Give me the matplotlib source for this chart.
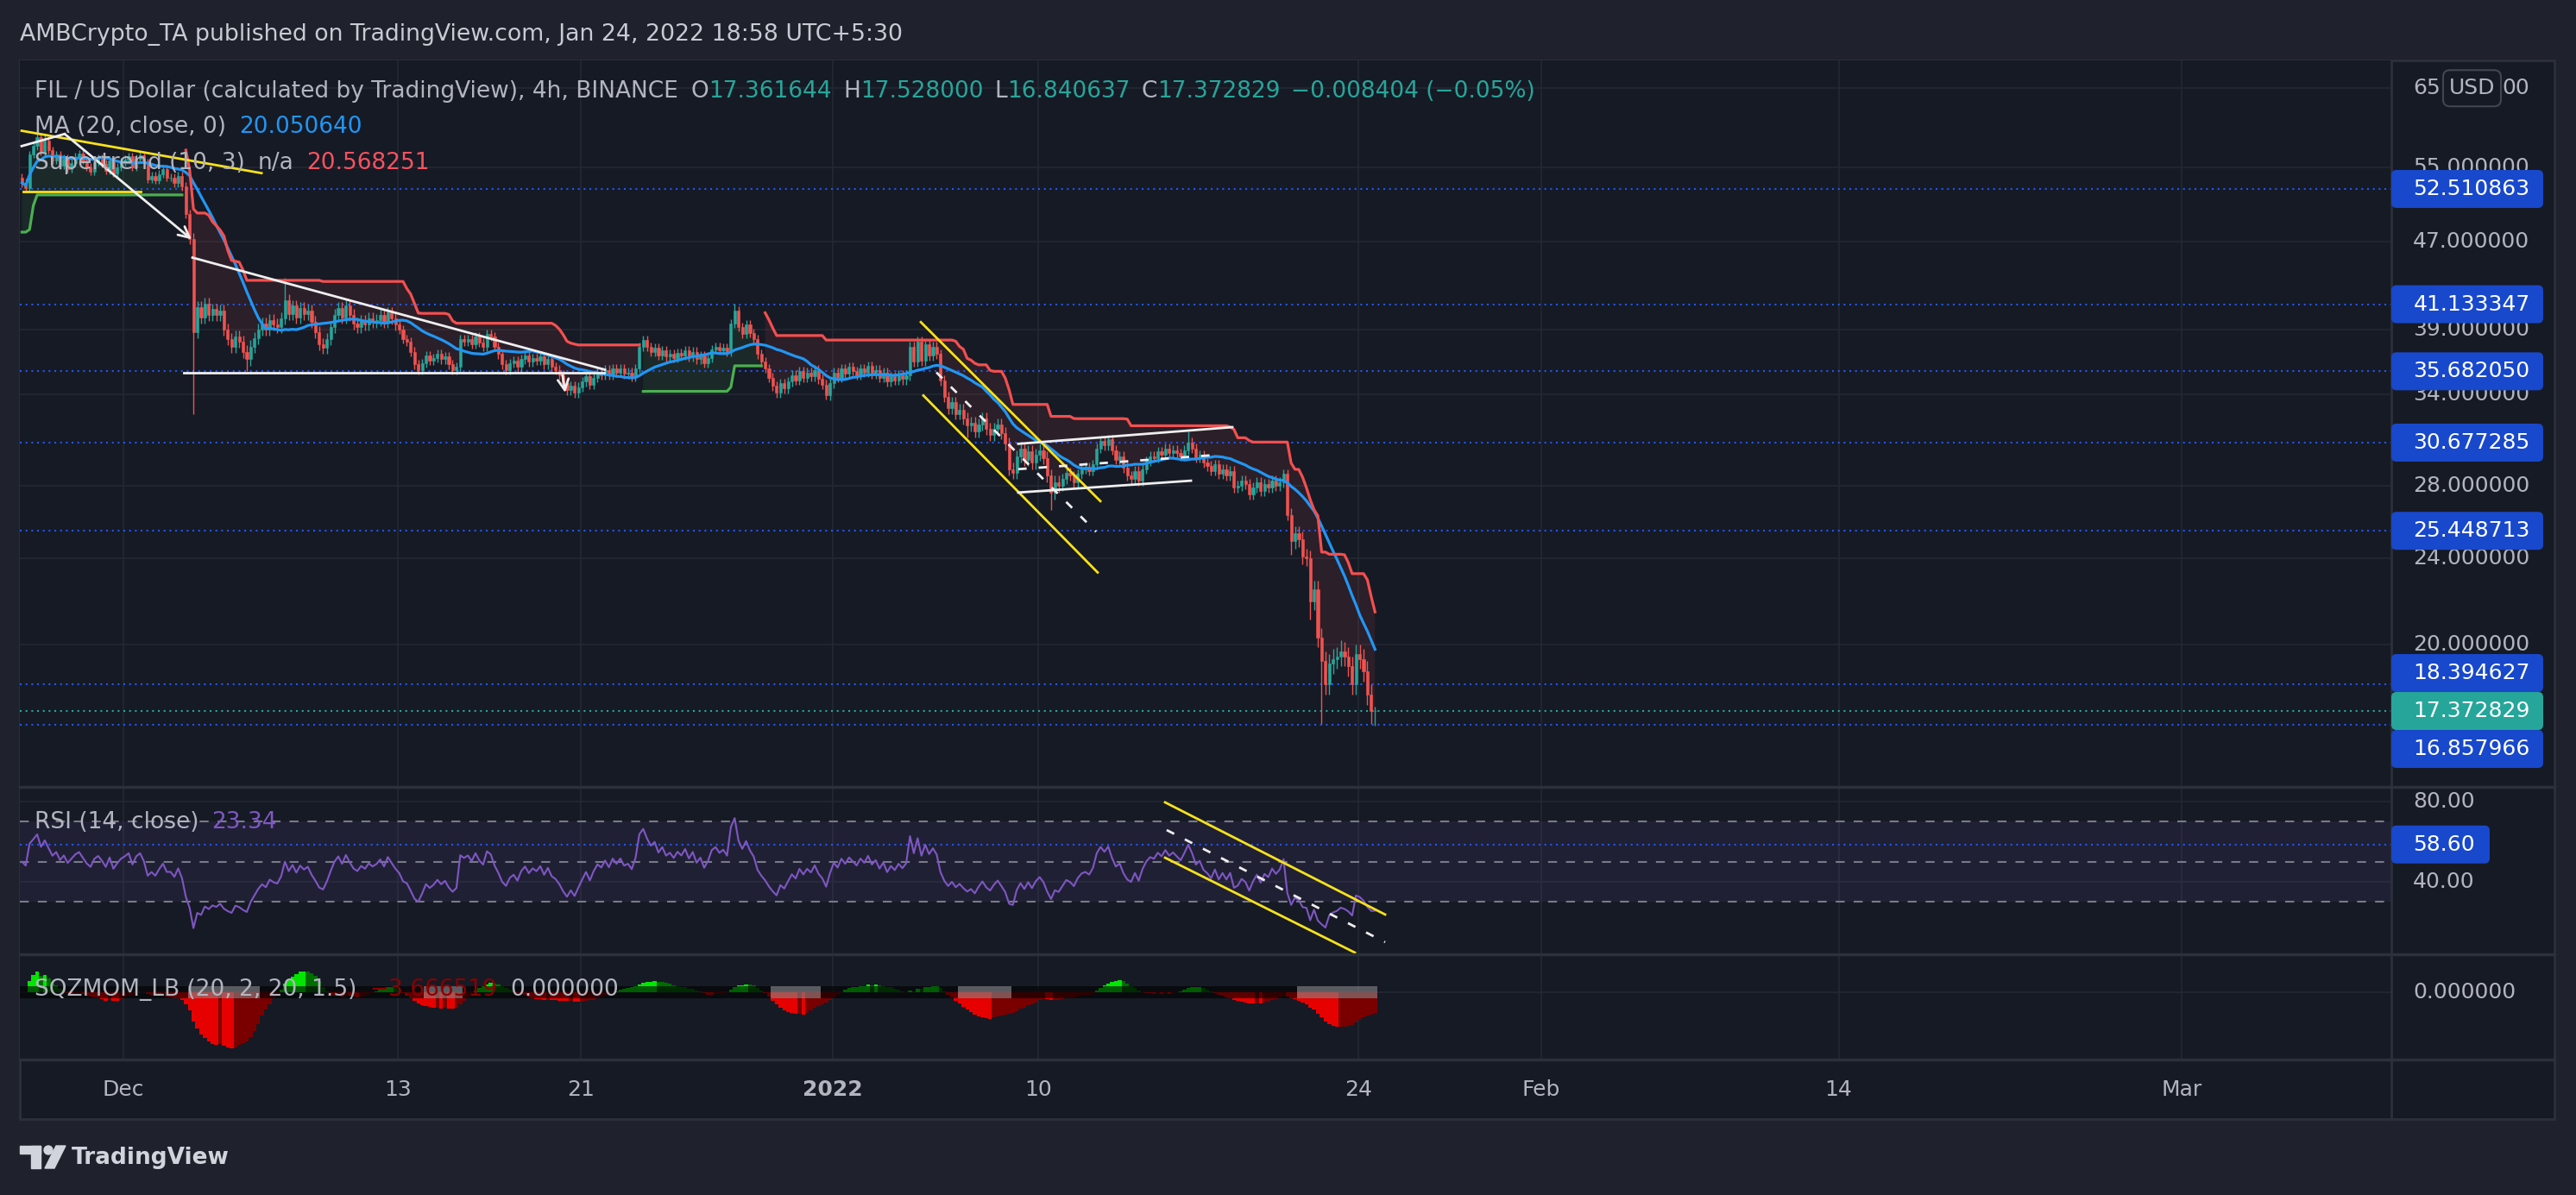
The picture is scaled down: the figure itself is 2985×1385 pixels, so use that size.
import numpy as np
import pandas as pd
import matplotlib
matplotlib.use("Agg")
import matplotlib.pyplot as plt
from matplotlib.patches import FancyBboxPatch, Rectangle, Polygon, Circle
from matplotlib.lines import Line2D
from matplotlib.transforms import IdentityTransform

plt.rcParams['font.family'] = ['DejaVu Sans']

W, H = 2985, 1385

# ---------------- data ----------------
# 4h closes, one row per calendar day (UTC+5:30), Nov 26 2021 .. Jan 24 2022
closes_by_day = [
    [53.2, 52.6, 56.5],                          # Nov 26
    [57.5, 58.6, 56.8, 58.2, 57.0, 55.8],        # Nov 27
    [56.5, 55.2, 56.0, 54.8, 55.5, 56.2],
    [56.6, 55.8, 55.0, 54.5, 55.6, 56.0],
    [55.4, 54.6, 55.8, 54.3, 55.0, 55.6],        # Nov 30
    [55.9, 56.3, 55.0, 56.0, 56.4, 55.5],        # Dec 1
    [53.6, 54.0, 53.5, 54.2, 54.8, 53.8],
    [53.8, 53.2, 54.0, 52.8, 49.8, 47.2],
    [38.8, 40.9, 40.0, 41.2, 40.2, 40.7],        # Dec 4
    [40.2, 40.6, 39.0, 38.2, 37.6, 38.4],
    [38.0, 37.2, 36.6, 37.6, 38.3, 39.0],
    [39.5, 39.0, 39.8, 39.4, 39.2, 39.9],
    [41.5, 40.3, 41.0, 40.0, 40.8, 40.3],        # Dec 8
    [40.6, 39.6, 38.8, 37.8, 37.5, 38.2],
    [39.2, 40.2, 40.8, 40.0, 41.0, 40.2],
    [39.5, 39.2, 39.7, 39.4, 39.9, 39.6],
    [39.8, 40.2, 39.6, 40.4, 39.9, 39.4],        # Dec 12
    [39.0, 38.2, 38.0, 37.2, 36.2, 35.8],
    [36.3, 36.9, 36.5, 36.7, 37.0, 36.6],
    [36.8, 36.2, 35.8, 36.0, 38.2, 38.0],
    [38.2, 37.8, 38.4, 37.9, 37.6, 38.6],        # Dec 16
    [38.4, 37.6, 37.0, 36.2, 35.8, 36.3],
    [36.5, 36.0, 36.6, 36.9, 36.4, 36.7],
    [36.5, 36.8, 36.2, 36.6, 36.0, 35.8],
    [35.4, 34.8, 34.3, 34.6, 34.1, 34.5],        # Dec 20
    [34.9, 35.3, 34.7, 35.2, 35.6, 35.4],
    [35.8, 35.4, 35.9, 35.6, 35.9, 35.5],
    [35.6, 35.3, 35.9, 37.6, 38.1, 37.6],
    [37.2, 37.5, 36.9, 37.3, 36.8, 37.0],        # Dec 24
    [36.7, 37.1, 36.9, 37.3, 36.8, 37.2],
    [36.6, 36.9, 36.3, 36.7, 37.4, 37.6],
    [37.3, 37.5, 37.2, 39.5, 40.6, 39.2],
    [38.6, 39.4, 38.7, 38.2, 37.0, 36.4],        # Dec 28
    [35.9, 35.2, 34.6, 34.1, 34.8, 34.4],
    [34.9, 35.4, 35.0, 35.7, 35.2, 35.6],
    [35.3, 35.8, 35.1, 34.7, 33.9, 34.8],
    [35.6, 35.2, 35.9, 35.5, 36.0, 35.7],        # Jan 1
    [35.4, 35.9, 35.6, 36.1, 35.5, 35.8],
    [35.2, 35.6, 34.9, 35.3, 35.0, 35.4],
    [35.1, 35.4, 37.6, 36.4, 38.0, 36.5],
    [37.8, 36.9, 37.6, 37.0, 35.0, 33.8],        # Jan 5
    [33.0, 33.4, 32.6, 32.9, 32.3, 31.8],
    [32.0, 31.4, 31.9, 32.3, 31.6, 31.2],
    [31.6, 31.9, 31.3, 30.6, 29.0, 28.8],
    [29.8, 30.3, 29.6, 30.1, 29.4, 29.9],        # Jan 9
    [30.2, 29.7, 28.6, 27.6, 28.2, 28.0],
    [28.4, 28.8, 28.6, 28.2, 28.7, 29.0],
    [29.1, 28.9, 29.3, 30.3, 30.8, 30.5],
    [30.9, 30.2, 29.6, 29.8, 29.1, 28.6],        # Jan 13
    [28.4, 28.9, 28.3, 29.0, 29.5, 29.8],
    [29.7, 30.1, 29.9, 30.3, 30.0, 30.2],
    [30.0, 29.8, 30.2, 30.7, 30.3, 29.7],
    [29.9, 29.4, 29.2, 28.9, 29.3, 28.7],        # Jan 17
    [29.0, 28.6, 28.9, 27.9, 28.0, 28.3],
    [28.1, 27.5, 27.9, 28.2, 27.7, 28.1],
    [27.9, 28.3, 28.0, 28.2, 28.7, 26.3],
    [24.9, 25.3, 25.0, 24.1, 24.0, 21.9],        # Jan 21
    [22.5, 20.3, 19.3, 18.4, 19.2, 19.4],
    [19.5, 19.7, 19.5, 19.1, 18.4, 19.6],
    [19.4, 18.9, 18.0, 17.361644, 17.372829],    # Jan 24
]
first_open = 53.8

# typical wick length per day (price units), Nov 26 .. Jan 24
day_wick = [0.45, 0.45, 0.45, 0.45, 0.45, 0.45, 0.45, 0.45,
            0.5, 0.5, 0.5, 0.5, 0.5, 0.5, 0.5, 0.5, 0.5,
            0.35, 0.35, 0.35, 0.35, 0.35, 0.35, 0.35, 0.35, 0.35, 0.35, 0.35,
            0.35, 0.35, 0.35, 0.35, 0.35, 0.35, 0.35, 0.35, 0.35, 0.35, 0.35,
            0.4, 0.4, 0.4, 0.4, 0.4, 0.4, 0.4,
            0.3, 0.3, 0.3, 0.3, 0.3, 0.3, 0.3, 0.3, 0.3, 0.3,
            0.4, 0.4, 0.4, 0.4]

spike_high = {"2021-11-27 05:30": 59.4, "2021-11-27 13:30": 59.0,
              "2021-12-04 01:30": 47.8, "2021-12-08 01:30": 43.5,
              "2021-12-10 17:30": 41.6, "2021-12-27 17:30": 41.2,
              "2022-01-16 13:30": 31.4, "2022-01-23 05:30": 20.2,
              "2022-01-24 17:30": 17.528}
spike_low = {"2021-12-04 01:30": 32.6, "2021-12-06 09:30": 35.7,
             "2021-12-31 17:30": 33.6, "2022-01-06 21:30": 31.0,
             "2022-01-10 13:30": 26.6, "2022-01-19 05:30": 27.2,
             "2022-01-21 01:30": 24.2, "2022-01-21 21:30": 21.1,
             "2022-01-22 09:30": 16.9, "2022-01-24 13:30": 16.9,
             "2022-01-24 17:30": 16.840637}

# ATR level at the left edge (from the supertrend's distance to price there)
atr_seed = 1.9

levels = [52.510863, 41.133347, 35.682050, 30.677285, 25.448713, 18.394627, 16.857966]
last_price = 17.372829
rsi_level = 58.60

price_ticks = [65, 55, 47, 39, 34, 28, 24, 20]
rsi_ticks = [80, 40]
date_ticks = [0, 12, 20, 31, 40, 54, 62, 75, 90]      # days after 2021-12-01
date_labels = ["Dec", "13", "21", "2022", "10", "24", "Feb", "14", "Mar"]

# hand drawings: (days after Dec 1, price)
yellow_wedge = ([-4.45, 6.04], [59.4, 54.3])
yellow_base = ([-4.38, 0.75], [52.2, 52.2])
white_peak = ([-4.45, -2.57], [57.5, 59.0])
white_drop = ([-2.57, 2.98], [59.0, 47.2])
white_trend = ([3.02, 21.06], [45.4, 35.8])
white_support = ([2.64, 21.0], [35.6, 35.6])
white_arrow2 = ([19.2, 19.32], [35.4, 34.1])
yellow_ch_top = ([34.87, 42.72], [39.6, 27.1])
yellow_ch_bot = ([34.98, 42.6], [33.9, 23.3])
white_ch_mid = ([35.55, 42.53], [35.6, 25.4])
flag_top = ([39.13, 48.49], [30.6, 31.7])
flag_bot = ([39.13, 46.68], [27.6, 28.3])
flag_mid = ([39.13, 47.9], [29.0, 29.9])
rsi_ch_top = ([45.55, 55.17], [79.6, 23.7])
rsi_ch_bot = ([45.55, 53.85], [52.0, 4.7])
rsi_ch_mid = ([45.62, 55.17], [65.8, 9.9])

# ---------------- candles & indicators ----------------
c = np.concatenate([np.array(d, float) for d in closes_by_day])
n = len(c)
times = pd.date_range("2021-11-26 13:30", periods=n, freq="4h")
t = ((times - pd.Timestamp("2021-12-01")) / pd.Timedelta(days=1)).to_numpy()
day_idx = (times.normalize() - pd.Timestamp("2021-11-26")).days.to_numpy()
o = np.r_[first_open, c[:-1]]
wk = np.array(day_wick)[day_idx]
h = np.maximum(o, c) + wk
l = np.minimum(o, c) - wk
for k, v in spike_high.items():
    h[times.get_loc(pd.Timestamp(k))] = v
for k, v in spike_low.items():
    l[times.get_loc(pd.Timestamp(k))] = v


def rma(x, length, seed):
    out = np.empty(len(x))
    prev = seed
    for i, v in enumerate(x):
        prev = prev + (v - prev) / length
        out[i] = prev
    return out


ma = pd.Series(c).rolling(20, min_periods=1).mean().to_numpy()

pc = np.r_[c[0], c[:-1]]
tr = np.maximum(h - l, np.maximum(np.abs(h - pc), np.abs(l - pc)))
atr = rma(tr, 10, atr_seed)
hl2 = (h + l) / 2
up = hl2 - 3 * atr
dn = hl2 + 3 * atr
trend = np.ones(n, int)
for i in range(1, n):
    if c[i - 1] > up[i - 1]:
        up[i] = max(up[i], up[i - 1])
    if c[i - 1] < dn[i - 1]:
        dn[i] = min(dn[i], dn[i - 1])
    if trend[i - 1] == -1 and c[i] > dn[i - 1]:
        trend[i] = 1
    elif trend[i - 1] == 1 and c[i] < up[i - 1]:
        trend[i] = -1
    else:
        trend[i] = trend[i - 1]
st_up = np.where(trend == 1, up, np.nan)
st_dn = np.where(trend == -1, dn, np.nan)
body_mid = (o + c) / 2

dc = np.diff(c, prepend=c[0])
seed = np.abs(dc[1:15]).mean() / 2
gain = rma(np.clip(dc, 0, None), 14, seed)
loss = rma(np.clip(-dc, 0, None), 14, seed)
rsi = 100 - 100 / (1 + gain / loss)

s = pd.Series(c)
basis = s.rolling(20, min_periods=1).mean()
dev = 1.5 * s.rolling(20, min_periods=2).std(ddof=0).fillna(0)
rng_ma = pd.Series(tr).rolling(20, min_periods=1).mean()
sqz_on = ((basis - dev) > (basis - 1.5 * rng_ma)) & ((basis + dev) < (basis + 1.5 * rng_ma))
sqz_off = ((basis - dev) < (basis - 1.5 * rng_ma)) & ((basis + dev) > (basis + 1.5 * rng_ma))
mid_hl = (pd.Series(h).rolling(20, min_periods=1).max() + pd.Series(l).rolling(20, min_periods=1).min()) / 2
inner = s - (mid_hl + basis) / 2


def lr_last(y):
    xx = np.arange(len(y))
    a, b = np.polyfit(xx, y, 1)
    return a * (len(y) - 1) + b


val = inner.rolling(20, min_periods=3).apply(lr_last, raw=True).fillna(0).to_numpy()
prev_val = np.r_[0, val[:-1]]
bar_cols = np.where(val > 0, np.where(val > prev_val, "#00e600", "#006d00"),
                    np.where(val < prev_val, "#e60000", "#7a0000"))
dot_cols = np.where(~sqz_on & ~sqz_off, "#2962ff", np.where(sqz_on, "#000000", "#888888"))

# ---------------- styling ----------------
outer_bg = "#1f222c"
bg = "#161a25"
grid = "#242833"
sep = "#2c303b"
txt = "#b2b5be"
up_col, dn_col = "#26a69a", "#ef5350"
blue_lvl = "#2257f0"
label_blue = "#1848cc"
FS = 18
LFS = 19

fig = plt.figure(figsize=(W / 100, H / 100), dpi=100, facecolor=outer_bg)
px = IdentityTransform()

X0, X1 = 23, 2771
x_lo = -(143 - X0) / 26.5
x_hi = 90 + (X1 - 2528) / 26.5


def add_ax(top, bot):
    ax = fig.add_axes([X0 / W, 1 - bot / H, (X1 - X0) / W, (bot - top) / H])
    ax.set_facecolor(bg)
    ax.set_xlim(x_lo, x_hi)
    for sp in ax.spines.values():
        sp.set_visible(False)
    ax.tick_params(which="both", left=False, labelleft=False, bottom=False, labelbottom=False)
    for d in date_ticks:
        ax.axvline(d, color=grid, lw=1.2, zorder=0)
    return ax


fig.add_artist(Rectangle((X0, H - 1297), 2960 - X0, 1297 - 70, transform=px,
                         facecolor=bg, edgecolor=sep, lw=2, zorder=-5))

ax = add_ax(70, 912)
ax.set_yscale("log")
ax.set_ylim(20 * np.exp(-165 / 547), 20 * np.exp(677 / 547))
ax.yaxis.set_minor_locator(matplotlib.ticker.NullLocator())
for p in price_ticks:
    ax.axhline(p, color=grid, lw=1.2, zorder=0)

# supertrend fills
ax.fill_between(t, body_mid, st_up, where=trend == 1, color="#4caf50", alpha=0.1, lw=0, zorder=1)
ax.fill_between(t, body_mid, st_dn, where=trend == -1, color="#ff5252", alpha=0.09, lw=0, zorder=1)

for lv in levels:
    ax.axhline(lv, color=blue_lvl, lw=1.5, ls=(0, (1, 2.2)), zorder=2)
ax.axhline(last_price, color=up_col, lw=1.5, ls=(0, (1, 2.2)), zorder=2)

cols = np.where(c >= o, up_col, dn_col)
ax.vlines(t, l, h, colors=cols, lw=1.0, zorder=3)
ax.bar(t, np.abs(c - o), bottom=np.minimum(o, c), width=0.72 / 6, color=cols,
       edgecolor=cols, lw=0.4, zorder=4)

ax.plot(t, ma, color="#2196f3", lw=2.3, zorder=5)
ax.plot(t, st_up, color="#4caf50", lw=2.3, zorder=5)
ax.plot(t, st_dn, color="#f44f4f", lw=2.3, zorder=5)

# drawings
for xs, ys in [yellow_wedge, yellow_base, yellow_ch_top, yellow_ch_bot]:
    ax.plot(xs, ys, color="#f7e11b", lw=2, zorder=6)
for xs, ys in [white_peak, white_trend, white_support, flag_top, flag_bot]:
    ax.plot(xs, ys, color="#eeeeee", lw=2, zorder=6)
for xs, ys in [white_ch_mid, flag_mid]:
    ax.plot(xs, ys, color="#eeeeee", lw=2, ls=(0, (3.5, 5)), zorder=6)
for xs, ys in [white_drop, white_arrow2]:
    ax.annotate("", xy=(xs[1], ys[1]), xytext=(xs[0], ys[0]),
                arrowprops=dict(arrowstyle="->,head_length=0.9,head_width=0.45",
                                color="#eeeeee", lw=2, shrinkA=0, shrinkB=0), zorder=6)

# RSI panel
ax_r = add_ax(912, 1106)
ax_r.set_ylim(80 - (1106 - 929) / 2.325, 80 + (929 - 912) / 2.325)
for v in rsi_ticks:
    ax_r.axhline(v, color=grid, lw=1.2, zorder=0)
ax_r.axhspan(30, 70, color="#7e57c2", alpha=0.1, lw=0, zorder=1)
for v in [70, 50, 30]:
    ax_r.axhline(v, color="#787b86", lw=1.5, ls=(0, (5, 5)), zorder=2)
ax_r.axhline(rsi_level, color=blue_lvl, lw=1.5, ls=(0, (1, 2.2)), zorder=2)
ax_r.plot(t, rsi, color="#7e57c2", lw=1.5, zorder=4)
ax_r.plot(*rsi_ch_top, color="#f7e11b", lw=2, zorder=5)
ax_r.plot(*rsi_ch_bot, color="#f7e11b", lw=2, zorder=5)
ax_r.plot(*rsi_ch_mid, color="#eeeeee", lw=2, ls=(0, (3.5, 5)), zorder=5)

# squeeze momentum panel
ax_s = add_ax(1106, 1228)
vmin = min(val.min(), -1e-6)
span = -vmin / ((1215 - 1150) / 122)
ax_s.set_ylim(-(1228 - 1150) / 122 * span, (1150 - 1106) / 122 * span)
ax_s.axhline(0, color=grid, lw=1.2, zorder=0)
ax_s.bar(t, val, width=1 / 6, color=bar_cols, lw=0, zorder=2)
mh = span * 14 / 122
ax_s.bar(t, np.full(n, mh), bottom=-mh / 2, width=1 / 6, color=dot_cols, alpha=0.6, lw=0, zorder=3)

# separators
for yy in [912, 1106, 1228]:
    fig.add_artist(Line2D([X0, 2960], [H - yy, H - yy], transform=px, color=sep, lw=2.5, zorder=8))
fig.add_artist(Line2D([X1, X1], [H - 70, H - 1297], transform=px, color=sep, lw=2, zorder=8))


def ypix(a, v):
    return a.transData.transform((0, v))[1]


def xpix(a, v):
    return a.transData.transform((v, 1))[0]


renderer = fig.canvas.get_renderer()


def run(x, y, parts, size=LFS):
    for s_, col, gap in parts:
        tt = fig.text(x, H - y, s_, color=col, fontsize=size, va="center", ha="left", transform=px, zorder=10)
        x += tt.get_window_extent(renderer).width + gap


# header & legends
run(23, 40, [("AMBCrypto_TA published on TradingView.com, Jan 24, 2022 18:58 UTC+5:30", "#c8cbd3", 0)],
    size=19.3)
run(40, 106, [("FIL / US Dollar (calculated by TradingView), 4h, BINANCE", txt, 15),
              ("O", txt, 0), ("17.361644", up_col, 13), ("H", txt, 0), ("17.528000", up_col, 13),
              ("L", txt, 0), ("16.840637", up_col, 13), ("C", txt, 0), ("17.372829", up_col, 13),
              ("\u22120.008404 (\u22120.05%)", up_col, 0)])
run(40, 147, [("MA (20, close, 0)", txt, 15), ("20.050640", "#2196f3", 0)])
run(40, 189, [("Supertrend (10, 3)", txt, 15), ("n/a", txt, 15), ("20.568251", "#f7525f", 0)])
run(40, 953, [("RSI (14, close)", txt, 15), ("23.34", "#7e57c2", 0)])
run(40, 1147, [("SQZMOM_LB (20, 2, 20, 1.5)", txt, 15), ("\u22123.666519", "#8a0000", 15),
               ("0.000000", txt, 0)])

# price axis labels
AX_TX = 2796
for p in price_ticks[1:]:
    fig.text(AX_TX, ypix(ax, p), f"{p:.6f}", color=txt, fontsize=FS, va="center", ha="left",
             transform=px, zorder=9)
# top tick is partly covered by the currency badge: show its two visible ends
y65 = ypix(ax, 65)
probe = fig.text(0, 0, "65.000000", fontsize=FS, transform=px)
full_w = probe.get_window_extent(renderer).width
probe.remove()
fig.text(AX_TX, y65, "65", color=txt, fontsize=FS, va="center", ha="left", transform=px, zorder=9)
fig.text(AX_TX + full_w, y65, "00", color=txt, fontsize=FS, va="center", ha="right", transform=px, zorder=9)
fig.add_artist(FancyBboxPatch((2831, y65 - 21), 67, 42, boxstyle="round,pad=0,rounding_size=8",
                              transform=px, facecolor=bg, edgecolor="#434651", lw=1.5, zorder=10))
fig.text(2864.5, y65, "USD", color=txt, fontsize=FS, va="center", ha="center", transform=px, zorder=11)

# value labels (stacked so they don't overlap, current price stays in place)
BH = 44
lab = [(ypix(ax, v), f"{v:.6f}", label_blue, False) for v in levels]
lab.append((ypix(ax, last_price), f"{last_price:.6f}", up_col, True))
lab.sort(key=lambda r: -r[0])
ai = [i for i, r in enumerate(lab) if r[3]][0]
ys = [r[0] for r in lab]
for i in range(ai - 1, -1, -1):
    ys[i] = max(ys[i], ys[i + 1] + BH)
for i in range(ai + 1, len(ys)):
    ys[i] = min(ys[i], ys[i - 1] - BH)
for yy, (_, s_, col, _) in zip(ys, lab):
    fig.add_artist(FancyBboxPatch((X1, yy - BH / 2), 2947 - X1, BH, boxstyle="round,pad=0,rounding_size=6",
                                  transform=px, facecolor=col, edgecolor="none", zorder=10))
    fig.text(2864, yy, s_, color="white", fontsize=FS, va="center", ha="center", transform=px, zorder=11)

for v in rsi_ticks:
    fig.text(AX_TX, ypix(ax_r, v), f"{v:.2f}", color=txt, fontsize=FS, va="center", ha="left",
             transform=px, zorder=9)
yr = ypix(ax_r, rsi_level)
fig.add_artist(FancyBboxPatch((X1, yr - 22), 2885 - X1, 44, boxstyle="round,pad=0,rounding_size=6",
                              transform=px, facecolor=label_blue, edgecolor="none", zorder=10))
fig.text(AX_TX, yr, f"{rsi_level:.2f}", color="white", fontsize=FS, va="center", ha="left",
         transform=px, zorder=11)
fig.text(AX_TX, ypix(ax_s, 0), "0.000000", color=txt, fontsize=FS, va="center", ha="left",
         transform=px, zorder=9)

# time axis
for d, s_ in zip(date_ticks, date_labels):
    fig.text(xpix(ax, d), H - 1263, s_, color=txt, fontsize=FS, va="center", ha="center",
             fontweight="bold" if s_ == "2022" else "normal", transform=px, zorder=9)

# TradingView mark
lc = "#d1d4dc"
fig.add_artist(Rectangle((23, H - 1337), 24, 9, transform=px, color=lc, zorder=9))
fig.add_artist(Rectangle((36, H - 1354), 11, 26, transform=px, color=lc, zorder=9))
fig.add_artist(Circle((56, H - 1333), 5, transform=px, color=lc, zorder=9))
fig.add_artist(Polygon([(52, H - 1354), (65, H - 1328), (76, H - 1328), (63, H - 1354)],
                       closed=True, transform=px, color=lc, zorder=9))
fig.text(83, H - 1342, "TradingView", color=lc, fontsize=19, fontweight="bold", va="center", ha="left",
         transform=px, zorder=9)

fig.savefig("out.png", dpi=100, facecolor=outer_bg)
